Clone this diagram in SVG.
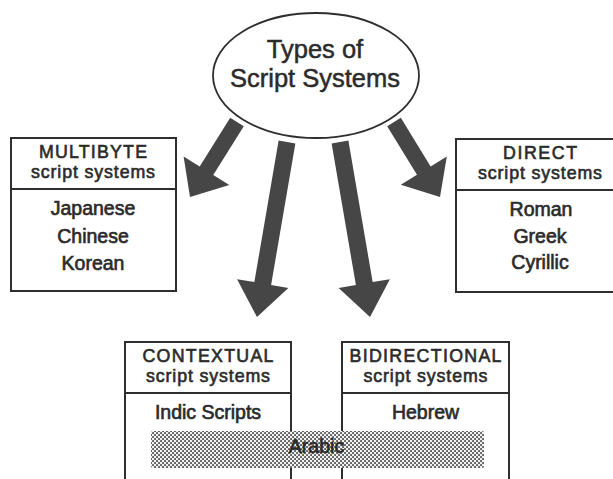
<svg xmlns="http://www.w3.org/2000/svg" width="613" height="479" viewBox="0 0 613 479">
  <style>
    .box { fill: none; stroke: #2e2e2e; stroke-width: 2; }
    .div { stroke: #2e2e2e; stroke-width: 2; }
    .t { font-family: "Liberation Sans", Arial, Helvetica, sans-serif; font-size: 19.5px; fill: #2b2b2b; stroke: #2b2b2b; stroke-width: 0.65; text-anchor: middle; }
    .h { font-family: "Liberation Sans", Arial, Helvetica, sans-serif; font-size: 17.8px; fill: #2b2b2b; stroke: #2b2b2b; stroke-width: 0.6; text-anchor: middle; }
    .big { font-family: "Liberation Sans", Arial, Helvetica, sans-serif; font-size: 25.5px; fill: #2b2b2b; stroke: #2b2b2b; stroke-width: 0.5; text-anchor: middle; }
    .arrow { fill: #464646; }
  </style>
  <defs>
    <pattern id="dots" width="4" height="4" patternUnits="userSpaceOnUse">
      <rect width="4" height="4" fill="#f2f2f2"/>
      <rect x="0.2" y="0.2" width="1.7" height="1.7" fill="#3a3a3a"/>
      <rect x="2.2" y="2.2" width="1.7" height="1.7" fill="#3a3a3a"/>
    </pattern>
  </defs>
  <rect width="613" height="479" fill="#ffffff"/>

  <g id="connectors">
    <polygon class="arrow" transform="translate(237,122) rotate(122.07)" points="0,-8 57.5,-8 57.5,-27 88.5,0 57.5,27 57.5,8 0,8"/>
    <polygon class="arrow" transform="translate(394,122) rotate(58.47)" points="0,-8 57,-8 57,-27 88,0 57,27 57,8 0,8"/>
    <polygon class="arrow" transform="translate(287,142) rotate(99.73)" points="0,-8.5 143.6,-8.5 143.6,-26 177.6,0 143.6,26 143.6,8.5 0,8.5"/>
    <polygon class="arrow" transform="translate(340,142) rotate(80.27)" points="0,-8.5 143.6,-8.5 143.6,-26 177.6,0 143.6,26 143.6,8.5 0,8.5"/>
  </g>

  <g id="root">
    <ellipse cx="316" cy="75.5" rx="103" ry="62.5" fill="#ffffff" stroke="#2e2e2e" stroke-width="1.8"/>
    <text class="big" x="315" y="58">Types of</text>
    <text class="big" x="315" y="87">Script Systems</text>
  </g>

  <g id="multibyte">
    <rect class="box" x="11" y="138" width="165" height="153"/>
    <line class="div" x1="11" y1="189" x2="176" y2="189"/>
    <text class="h" x="93" y="158" textLength="108" lengthAdjust="spacing">MULTIBYTE</text>
    <text class="h" x="93" y="178" textLength="124" lengthAdjust="spacing">script systems</text>
    <text class="t" x="93" y="215">Japanese</text>
    <text class="t" x="93" y="243">Chinese</text>
    <text class="t" x="93" y="270">Korean</text>
  </g>

  <g id="direct">
    <rect class="box" x="456" y="139" width="166" height="153"/>
    <line class="div" x1="456" y1="190" x2="613" y2="190"/>
    <text class="h" x="540" y="158.5" textLength="74" lengthAdjust="spacing">DIRECT</text>
    <text class="h" x="540" y="179" textLength="124" lengthAdjust="spacing">script systems</text>
    <text class="t" x="541" y="216">Roman</text>
    <text class="t" x="540" y="243">Greek</text>
    <text class="t" x="540" y="269">Cyrillic</text>
  </g>

  <g id="contextual">
    <rect class="box" x="125" y="342" width="166" height="160"/>
    <line class="div" x1="125" y1="393" x2="291" y2="393"/>
    <text class="h" x="208" y="361.5" textLength="131" lengthAdjust="spacing">CONTEXTUAL</text>
    <text class="h" x="208" y="381.5" textLength="124" lengthAdjust="spacing">script systems</text>
    <text class="t" x="208" y="419">Indic Scripts</text>
  </g>

  <g id="bidirectional">
    <rect class="box" x="342" y="342" width="167" height="160"/>
    <line class="div" x1="342" y1="393" x2="509" y2="393"/>
    <text class="h" x="425.5" y="362" textLength="152" lengthAdjust="spacing">BIDIRECTIONAL</text>
    <text class="h" x="425.5" y="382" textLength="124" lengthAdjust="spacing">script systems</text>
    <text class="t" x="425.5" y="419">Hebrew</text>
  </g>

  <g id="arabic">
    <rect x="151" y="431" width="333" height="37" rx="2" fill="url(#dots)"/>
    <text class="t" x="316.5" y="453">Arabic</text>
  </g>
</svg>
